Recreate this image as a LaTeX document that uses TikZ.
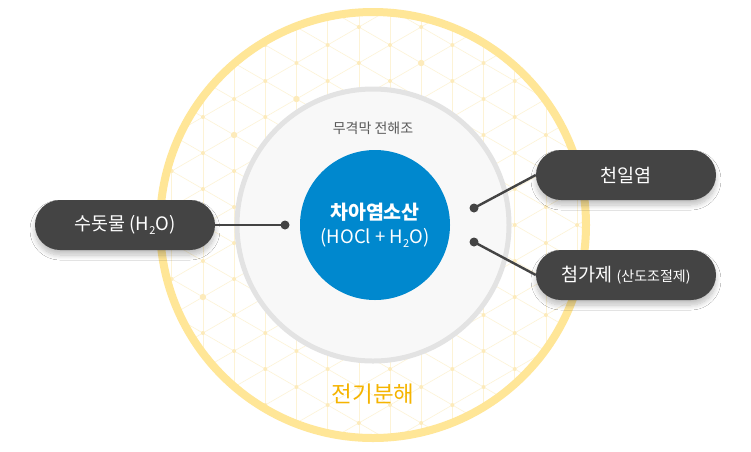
\documentclass[tikz,border=0pt]{standalone}
\usepackage{fontspec}
\setmainfont{Noto Sans CJK KR}
\usetikzlibrary{shadows.blur}

\definecolor{pillgray}{HTML}{444444}
\definecolor{ringyellow}{HTML}{FFE697}
\definecolor{gridyellow}{HTML}{FDF3D6}
\definecolor{dotyellow}{HTML}{FDEBBB}
\definecolor{cellgray}{HTML}{E3E3E3}
\definecolor{cellfill}{HTML}{F8F8F8}
\definecolor{hoclblue}{HTML}{0088CE}
\definecolor{goldtext}{HTML}{F5B400}

\newcommand{\lowtwo}{\raisebox{-0.45ex}{\fontsize{11}{11}\selectfont 2}}

\begin{document}
\begin{tikzpicture}[
    x=1pt, y=-1pt,
    gridline/.style={draw=gridyellow, line width=0.6pt},
    pill/.style={rectangle, rounded corners=25pt, fill=pillgray, text=white, minimum width=180pt, minimum height=50pt, inner sep=0pt, font=\fontsize{18.5}{22}\selectfont, blur shadow={shadow xshift=0pt, shadow yshift=-5pt, shadow opacity=25, shadow blur radius=5pt, shadow blur steps=10}},
    link/.style={draw=pillgray, line width=2.4pt},
    dot/.style={circle, fill=pillgray, minimum size=9pt, inner sep=0pt}
]

% Canvas
\useasboundingbox[fill=white] (0,0) rectangle (751,451);

% Hex pattern inside the ring
\begin{scope}
  \clip (373,225) circle (210pt);
  \foreach \k in {-7,...,17} {
    \draw[gridline] (90,{45+36*\k+173.2}) -- (690,{45+36*\k-173.2});
    \draw[gridline] (90,{45+36*\k-173.2}) -- (690,{45+36*\k+173.2});
  }
  \foreach \i in {-7,...,7} {
    \draw[gridline] ({390+31.18*\i},0) -- ({390+31.18*\i},451);
    \foreach \j in {-1,...,12}
      \fill[dotyellow] ({390+31.18*\i},{45+36*\j+18*mod(\i,2)}) circle (2pt);
  }
  % a few bigger dots
  \foreach \i/\j in {1/0, -3/2, 6/4, -6/7, -1/9, 4/10, 5/1, -5/3}
    \fill[dotyellow] ({390+31.18*\i},{45+36*\j+18*mod(\i,2)}) circle (3.2pt);
\end{scope}

% Rings
\draw[ringyellow, line width=8pt] (373,225) circle (213pt);
\draw[cellgray, fill=cellfill, line width=5pt] (373,225) circle (136pt);
\node[circle, fill=hoclblue, minimum size=150pt, inner sep=0pt] (hocl) at (375,225) {};

% Labels
\node[text=white, font=\fontsize{19.5}{22}\selectfont\bfseries] (hoclname) at (375,212) {차아염소산};
\node[text=white, font=\fontsize{18.5}{21}\selectfont] (hoclformula) at (375,238) {(HOCl + H\lowtwo O)};
\node[text=black!65, font=\fontsize{14}{16}\selectfont] (cell) at (373,128) {무격막 전해조};
\node[text=goldtext, font=\fontsize{22.5}{26}\selectfont] (electro) at (373,394) {전기분해};

% Inputs
\node[dot] (dotL) at (285,225) {};
\node[dot] (dotA) at (474,208) {};
\node[dot] (dotB) at (474,242) {};

\node[pill] (tap) at (125,225) {수돗물 (H\lowtwo O)};
\node[pill] (salt) at (626,175) {천일염};
\node[pill] (additive) at (626,275) {첨가제 {\fontsize{14}{16}\selectfont(산도조절제)}};

\draw[link] (tap.east) -- (dotL.center);
\draw[link] (dotA.center) -- (salt.west);
\draw[link] (dotB.center) -- (additive.west);

\end{tikzpicture}
\end{document}
